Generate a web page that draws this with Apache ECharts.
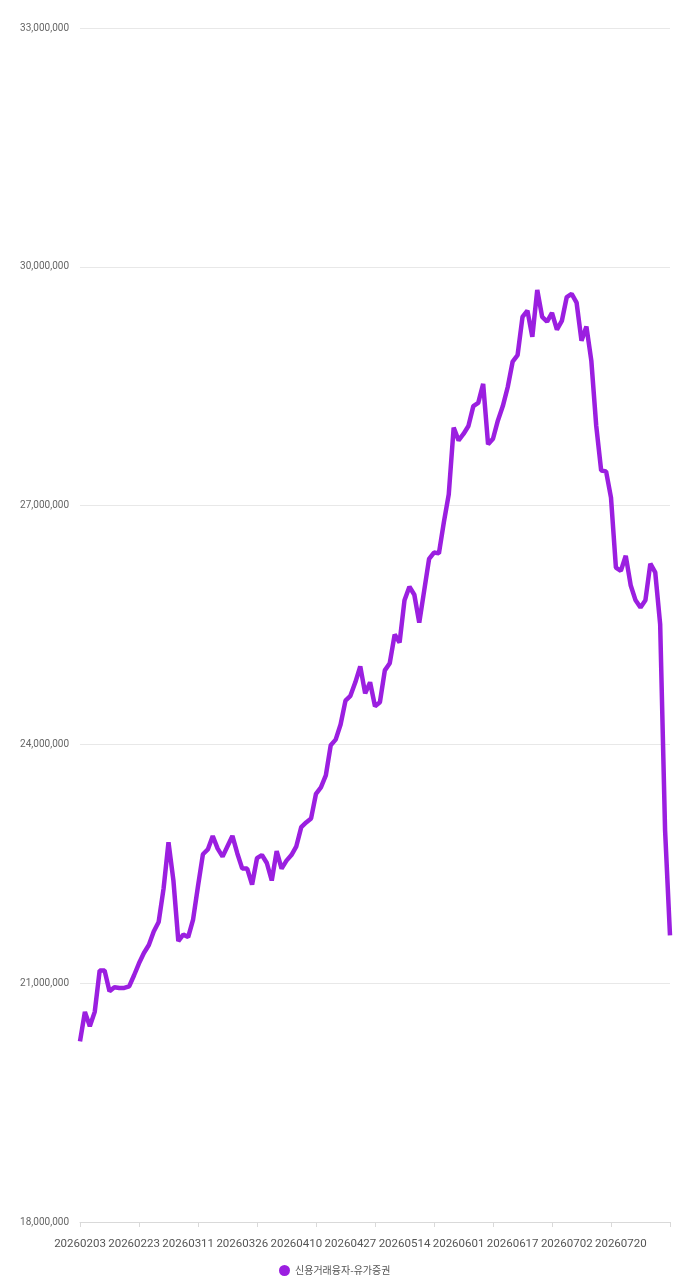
<!DOCTYPE html>
<html>
<head>
<meta charset="utf-8">
<script src="https://cdn.jsdelivr.net/npm/echarts@6/dist/echarts.min.js"></script>
<style>
html,body{margin:0;padding:0;background:#fff;}
#c{width:679px;height:1280px;}
</style>
</head>
<body>
<div id="c"></div>
<script>
const seriesName = '신용거래융자-유가증권';
const dates = [
'20260203','20260204','20260205','20260206','20260209','20260210','20260211','20260212','20260213','20260219','20260220',
'20260223','20260224','20260225','20260226','20260227','20260303','20260304','20260305','20260306','20260309','20260310',
'20260311','20260312','20260313','20260316','20260317','20260318','20260319','20260320','20260323','20260324','20260325',
'20260326','20260327','20260330','20260331','20260401','20260402','20260403','20260406','20260407','20260408','20260409',
'20260410','20260413','20260414','20260415','20260416','20260417','20260420','20260421','20260422','20260423','20260424',
'20260427','20260428','20260429','20260430','20260504','20260506','20260507','20260508','20260511','20260512','20260513',
'20260514','20260515','20260518','20260519','20260520','20260521','20260522','20260526','20260527','20260528','20260529',
'20260601','20260602','20260604','20260605','20260608','20260609','20260610','20260611','20260612','20260615','20260616',
'20260617','20260618','20260619','20260622','20260623','20260624','20260625','20260626','20260629','20260630','20260701',
'20260702','20260703','20260706','20260707','20260708','20260709','20260710','20260713','20260714','20260715','20260716',
'20260720','20260721','20260722','20260723','20260724','20260727','20260728','20260729','20260730','20260731','20260803'
];
const values = [
20270000,20640000,20460000,20640000,21160000,21160000,20900000,20950000,20940000,20940000,20960000,
21100000,21250000,21380000,21480000,21650000,21770000,22190000,22770000,22290000,21530000,21610000,
21580000,21800000,22220000,22620000,22680000,22850000,22690000,22590000,22720000,22850000,22630000,
22440000,22440000,22240000,22570000,22610000,22510000,22290000,22660000,22440000,22540000,22610000,
22720000,22960000,23020000,23070000,23380000,23460000,23610000,23990000,24060000,24250000,24550000,
24610000,24780000,24980000,24640000,24780000,24480000,24530000,24930000,25020000,25380000,25280000,
25810000,25980000,25880000,25530000,25930000,26330000,26410000,26400000,26790000,27140000,27980000,
27820000,27900000,28000000,28250000,28290000,28530000,27770000,27840000,28070000,28250000,28490000,
28810000,28890000,29370000,29450000,29120000,29710000,29370000,29310000,29420000,29210000,29320000,
29620000,29660000,29550000,29070000,29250000,28820000,28000000,27440000,27430000,27100000,26220000,
26180000,26370000,26000000,25810000,25720000,25810000,26270000,26160000,25510000,22920000,21600000
];
const yMin = 18000000, yMax = 33000000, yStep = 3000000;

const chart = echarts.init(document.getElementById('c'), null, {renderer:'canvas'});
chart.setOption({
  animation: false,
  backgroundColor: '#ffffff',
  textStyle: {fontFamily: 'Roboto, "Noto Sans CJK KR", sans-serif'},
  grid: {left: 80, right: 9, top: 28, bottom: 58, containLabel: false},
  legend: {
    data: [seriesName],
    top: 1260,
    left: 274,
    icon: 'circle',
    itemWidth: 11,
    itemHeight: 11,
    itemGap: 10,
    textStyle: {color: '#555', fontSize: 10, fontFamily: '"Noto Sans CJK KR", Roboto, sans-serif'}
  },
  xAxis: {
    type: 'category',
    data: dates,
    boundaryGap: false,
    axisLine: {lineStyle: {color: '#d9d9d9'}},
    axisTick: {show: true, interval: 11, length: 5, lineStyle: {color: '#d9d9d9'}},
    axisLabel: {interval: 10, color: '#555', fontSize: 11.5, margin: 16, fontFamily: 'Roboto, sans-serif'},
    splitLine: {show: false}
  },
  yAxis: {
    type: 'value',
    min: yMin,
    max: yMax,
    interval: yStep,
    axisLine: {show: false},
    axisTick: {show: false},
    axisLabel: {color: '#666', fontSize: 10, margin: 11,
      formatter: v => v.toLocaleString('en-US')},
    splitLine: {lineStyle: {color: '#e8e8e8', width: 1}}
  },
  series: [{
    name: seriesName,
    type: 'line',
    data: values,
    showSymbol: false,
    symbol: 'circle',
    lineStyle: {color: '#9b1fe0', width: 4.5},
    itemStyle: {color: '#9b1fe0'}
  }]
});
</script>
</body>
</html>
